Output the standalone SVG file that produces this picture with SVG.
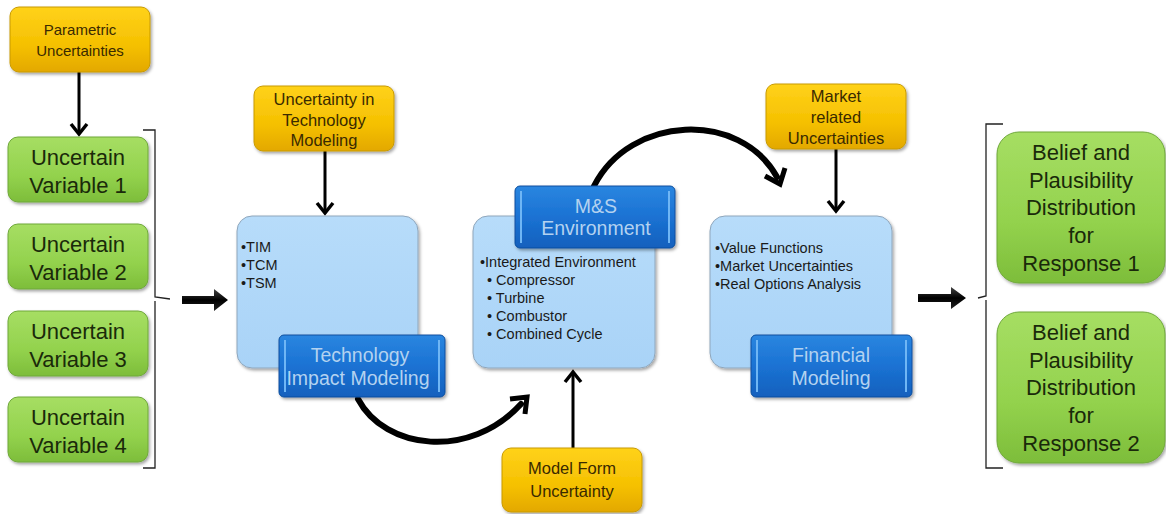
<svg xmlns="http://www.w3.org/2000/svg" width="1166" height="514" viewBox="0 0 1166 514">
<defs>
<linearGradient id="gY" x1="0" y1="0" x2="0" y2="1"><stop offset="0" stop-color="#ffd21a"/><stop offset="0.6" stop-color="#f5c000"/><stop offset="1" stop-color="#e3a800"/></linearGradient>
<linearGradient id="gG" x1="0" y1="0" x2="0" y2="1"><stop offset="0" stop-color="#a6de63"/><stop offset="0.6" stop-color="#93d24d"/><stop offset="1" stop-color="#7dbd3a"/></linearGradient>
<linearGradient id="gL" x1="0" y1="0" x2="0" y2="1"><stop offset="0" stop-color="#b7dcfa"/><stop offset="1" stop-color="#a9d3f7"/></linearGradient>
<linearGradient id="gB" x1="0" y1="0" x2="0" y2="1"><stop offset="0" stop-color="#2a86e0"/><stop offset="0.5" stop-color="#1b72d3"/><stop offset="1" stop-color="#1260bd"/></linearGradient>
<linearGradient id="gA" x1="0" y1="0" x2="0" y2="1"><stop offset="0" stop-color="#444"/><stop offset="0.5" stop-color="#000"/><stop offset="1" stop-color="#222"/></linearGradient>
<filter id="sh" x="-10%" y="-10%" width="125%" height="130%"><feDropShadow dx="1.5" dy="2" stdDeviation="1.5" flood-color="#000" flood-opacity="0.35"/></filter>
</defs>
<style>
.y{fill:url(#gY);stroke:#c89a00;stroke-width:1;filter:url(#sh)}
.g{fill:url(#gG);stroke:#6fa83a;stroke-width:1;filter:url(#sh)}
.l{fill:url(#gL);stroke:#8fa6bb;stroke-width:1;filter:url(#sh)}
.b{fill:url(#gB);stroke:#0f4f9e;stroke-width:1;filter:url(#sh)}
.hl{stroke:#6fb6f5;stroke-width:2;fill:none}
.ty{font-family:"Liberation Sans",Arial,sans-serif;font-size:16.5px;fill:#3a2a00;text-anchor:middle}
.tg{font-family:"Liberation Sans",Arial,sans-serif;font-size:22px;fill:#1a2a0a;text-anchor:middle}
.tl{font-family:"Liberation Sans",Arial,sans-serif;font-size:14.5px;fill:#1a1a1a}
.tb{font-family:"Liberation Sans",Arial,sans-serif;font-size:19.5px;fill:#b3d2f0;text-anchor:middle}
.ln{stroke:#000;stroke-width:3;fill:none}
.hd{stroke:#000;stroke-width:3.5;fill:none;stroke-linejoin:miter}
.cv{stroke:#000;stroke-width:6;fill:none;stroke-linecap:round}
.br{stroke:#222;stroke-width:1.3;fill:none}
</style>

<g id="connectors">
<path class="ln" d="M79,72 V133"/><path class="hd" d="M71,124 L79,134 L87,124"/>
<path class="ln" d="M325,151 V212"/><path class="hd" d="M317,203 L325,213 L333,203"/>
<path class="ln" d="M836,149 V210"/><path class="hd" d="M828,201 L836,211 L844,201"/>
<path class="ln" d="M573,448 V374"/><path class="hd" d="M565,382 L573,372 L581,382"/>
<path class="cv" d="M358,399 C385,450 470,460 521,404"/>
<path class="hd" style="stroke-width:5" d="M510,399 L527,397 L525,414"/>
<path class="cv" d="M594,186 C630,115 740,110 777,177"/>
<path class="hd" style="stroke-width:5" d="M765,176 L780,184 L785,168"/>
<path class="br" d="M143,130 H155 V297 L170,299 M155,301 V468 H143"/>
<path class="br" d="M1003,124 H986 V296 L978,298 M986,300 V468 H1003"/>
<path fill="url(#gA)" d="M182,296 H214 V289 L228,300 L214,311 V304 H182 Z"/>
<path fill="url(#gA)" d="M918,294 H951 V287 L966,298 L951,309 V302 H918 Z"/>
</g>

<g id="parametric"><rect class="y" x="10" y="7" width="140" height="65" rx="9"/><text class="ty" x="80" y="35" style="font-size:15px">Parametric</text><text class="ty" x="80" y="56" style="font-size:15px">Uncertainties</text></g>

<g id="var1"><rect class="g" x="8" y="137" width="140" height="65" rx="10"/><text class="tg" x="78" y="165">Uncertain</text><text class="tg" x="78" y="193">Variable 1</text></g>
<g id="var2"><rect class="g" x="8" y="224" width="140" height="65" rx="10"/><text class="tg" x="78" y="252">Uncertain</text><text class="tg" x="78" y="280">Variable 2</text></g>
<g id="var3"><rect class="g" x="8" y="311" width="140" height="65" rx="10"/><text class="tg" x="78" y="339">Uncertain</text><text class="tg" x="78" y="367">Variable 3</text></g>
<g id="var4"><rect class="g" x="8" y="397" width="140" height="65" rx="10"/><text class="tg" x="78" y="425">Uncertain</text><text class="tg" x="78" y="453">Variable 4</text></g>

<g id="unc-tech"><rect class="y" x="254" y="86" width="140" height="65" rx="9"/><text class="ty" x="324" y="105">Uncertainty  in</text><text class="ty" x="324" y="126">Technology</text><text class="ty" x="324" y="146">Modeling</text></g>

<g id="tim-box"><rect class="l" x="237" y="216" width="181" height="152" rx="15"/>
<text class="tl" x="241" y="252">•TIM</text><text class="tl" x="241" y="270">•TCM</text><text class="tl" x="241" y="288">•TSM</text></g>
<g id="tech-impact"><rect class="b" x="279" y="335" width="166" height="62" rx="5"/><path class="hl" d="M285,340 V392 M439,340 V392"/>
<text class="tb" x="360" y="362">Technology</text><text class="tb" x="358" y="385">Impact Modeling</text></g>

<g id="ms-box"><rect class="l" x="473" y="216" width="182" height="152" rx="15"/>
<text class="tl" x="480" y="267">•Integrated Environment</text>
<text class="tl" x="487" y="285">• Compressor</text>
<text class="tl" x="487" y="303">• Turbine</text>
<text class="tl" x="487" y="321">• Combustor</text>
<text class="tl" x="487" y="339">• Combined Cycle</text></g>
<g id="ms-env"><rect class="b" x="515" y="186" width="160" height="62" rx="5"/><path class="hl" d="M521,191 V243 M669,191 V243"/>
<text class="tb" x="596" y="213">M&amp;S</text><text class="tb" x="596" y="235">Environment</text></g>

<g id="model-form"><rect class="y" x="502" y="448" width="140" height="64" rx="9"/><text class="ty" x="572" y="474">Model Form</text><text class="ty" x="572" y="497">Uncertainty</text></g>

<g id="market"><rect class="y" x="766" y="84" width="140" height="65" rx="9"/><text class="ty" x="836" y="102">Market</text><text class="ty" x="836" y="123">related</text><text class="ty" x="836" y="144">Uncertainties</text></g>

<g id="fin-box"><rect class="l" x="710" y="216" width="182" height="152" rx="15"/>
<text class="tl" x="715" y="253">•Value Functions</text><text class="tl" x="715" y="271">•Market Uncertainties</text><text class="tl" x="715" y="289">•Real Options Analysis</text></g>
<g id="fin-model"><rect class="b" x="751" y="335" width="161" height="62" rx="5"/><path class="hl" d="M757,340 V392 M906,340 V392"/>
<text class="tb" x="831" y="362">Financial</text><text class="tb" x="831" y="385">Modeling</text></g>

<g id="resp1"><rect class="g" x="997" y="132" width="168" height="151" rx="22"/>
<text class="tg" x="1081" y="160">Belief and</text><text class="tg" x="1081" y="188">Plausibility</text><text class="tg" x="1081" y="215">Distribution</text><text class="tg" x="1081" y="243">for</text><text class="tg" x="1081" y="271">Response 1</text></g>
<g id="resp2"><rect class="g" x="997" y="312" width="168" height="151" rx="22"/>
<text class="tg" x="1081" y="340">Belief and</text><text class="tg" x="1081" y="368">Plausibility</text><text class="tg" x="1081" y="395">Distribution</text><text class="tg" x="1081" y="423">for</text><text class="tg" x="1081" y="451">Response 2</text></g>
</svg>
